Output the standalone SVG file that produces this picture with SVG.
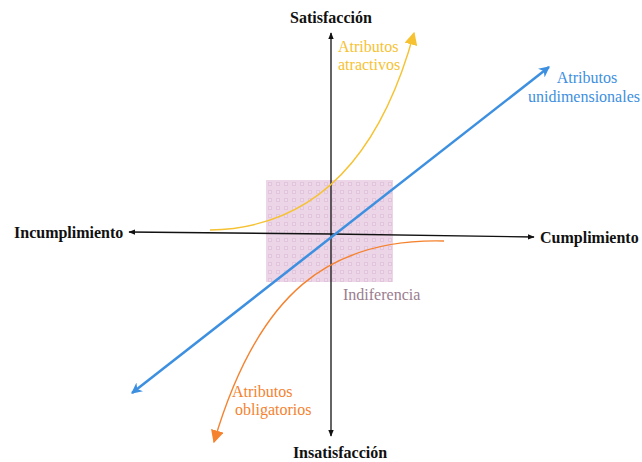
<svg xmlns="http://www.w3.org/2000/svg" width="642" height="462" viewBox="0 0 642 462">
<style>
.ax{font-family:"Liberation Serif","Times New Roman",serif;font-weight:bold;font-size:16px;fill:#111}
.lb{font-family:"Liberation Serif","Times New Roman",serif;font-size:16px}
</style>
<defs>
<pattern id="dots" x="266" y="180" width="8" height="8" patternUnits="userSpaceOnUse">
<rect width="8" height="8" fill="#ebd5e6"/>
<rect x="2" y="2" width="4" height="4" fill="#e2c5dc"/>
<rect x="3" y="3" width="2" height="2" fill="#eedbe9"/>
</pattern>
<marker id="ak" viewBox="0 0 10 10" refX="9" refY="5" markerWidth="7" markerHeight="7" orient="auto" markerUnits="userSpaceOnUse"><path d="M0,1 L10,5 L0,9 Z" fill="#111"/></marker>
<marker id="ab" viewBox="0 0 10 10" refX="9" refY="5" markerWidth="11" markerHeight="11" orient="auto-start-reverse" markerUnits="userSpaceOnUse"><path d="M0,0 L10,5 L0,10 L3,5 Z" fill="#3d8fe0"/></marker>
<marker id="ay" viewBox="0 0 10 10" refX="9" refY="5" markerWidth="13" markerHeight="13" orient="auto" markerUnits="userSpaceOnUse"><path d="M0,0 L10,5 L0,10 Z" fill="#f6c232"/></marker>
<marker id="ao" viewBox="0 0 10 10" refX="9" refY="5" markerWidth="13" markerHeight="13" orient="auto" markerUnits="userSpaceOnUse"><path d="M0,0 L10,5 L0,10 Z" fill="#f5822f"/></marker>
</defs>
<g id="indiferencia">
<rect x="266" y="180" width="127" height="102" fill="url(#dots)"/>
<text class="lb" x="343" y="300" fill="#9a7d8e">Indiferencia</text>
</g>
<g id="connectors">
<line x1="331" y1="233" x2="331" y2="33" stroke="#111" stroke-width="1.3" marker-end="url(#ak)"/>
<line x1="331" y1="233" x2="331" y2="436" stroke="#111" stroke-width="1.3" marker-end="url(#ak)"/>
<line x1="331" y1="234" x2="129" y2="232" stroke="#111" stroke-width="1.3" marker-end="url(#ak)"/>
<line x1="331" y1="234" x2="534" y2="237" stroke="#111" stroke-width="1.3" marker-end="url(#ak)"/>
<path d="M210,230 C320,228 382,150 414,33" fill="none" stroke="#f6c232" stroke-width="1.4" marker-end="url(#ay)"/>
<path d="M444,241 C330,238 258,292 214,442" fill="none" stroke="#f5822f" stroke-width="1.4" marker-end="url(#ao)"/>
<line x1="132" y1="393" x2="549" y2="67" stroke="#3d8fe0" stroke-width="2.5" marker-end="url(#ab)" marker-start="url(#ab)"/>
</g>
<g id="satisfaccion"><text class="ax" x="331" y="23" text-anchor="middle">Satisfacción</text></g>
<g id="insatisfaccion"><text class="ax" x="340" y="458" text-anchor="middle">Insatisfacción</text></g>
<g id="incumplimiento"><text class="ax" x="14" y="238">Incumplimiento</text></g>
<g id="cumplimiento"><text class="ax" x="540" y="243">Cumplimiento</text></g>
<g id="atractivos" class="lb" fill="#f6c232">
<text x="338" y="52">Atributos</text>
<text x="338" y="70">atractivos</text>
</g>
<g id="unidimensionales" class="lb" fill="#3d8fe0" text-anchor="middle">
<text x="587" y="83">Atributos</text>
<text x="584" y="102">unidimensionales</text>
</g>
<g id="obligatorios" class="lb" fill="#f5822f">
<text x="232" y="397">Atributos</text>
<text x="235" y="415">obligatorios</text>
</g>
</svg>
